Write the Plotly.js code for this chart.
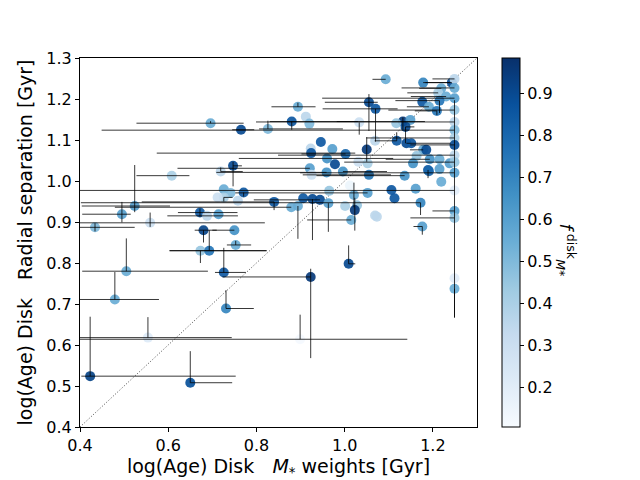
<!DOCTYPE html>
<html>
<head>
<meta charset="utf-8">
<script src="https://cdn.plot.ly/plotly-3.0.1.min.js"></script>
<style>body{margin:0;background:#fff}</style>
</head>
<body>
<div id="myDiv"></div>
<script>
// log(Age) disk, M* weighted (x) vs radial separation (y), colour = disk mass fraction
let ageMw = [0.423,0.650,0.554,0.899,0.923,1.009,0.479,0.505,0.731,0.726,
  0.673,0.693,0.753,0.434,0.559,0.495,0.524,0.672,0.680,0.688,
  0.714,0.750,0.608,0.719,0.747,0.696,0.765,0.826,0.726,0.741,
  0.726,0.712,0.758,0.771,0.840,0.894,0.912,0.920,0.880,1.093,
  1.055,1.070,1.033,1.132,1.149,1.117,1.138,1.118,1.140,1.151,
  1.069,1.050,1.178,1.243,1.219,1.212,1.230,1.215,1.176,1.191,
  1.209,1.178,1.185,1.163,1.193,1.215,1.155,1.189,1.215,1.238,
  1.136,1.191,1.219,1.161,1.106,1.113,1.172,1.176,1.069,0.946,
  0.923,0.924,0.972,1.002,0.960,0.978,0.921,0.925,0.959,0.996,
  1.031,1.052,1.055,1.012,0.965,0.879,0.894,0.906,0.927,0.944,
  0.963,1.001,1.021,1.028,1.023,1.015,1.052,1.073,1.249,1.249,
  1.249,1.249,1.249,1.249,1.249,1.249,1.249,1.249,1.249,1.249,
  1.249,1.249,1.249,1.249];
let radSep = [0.524,0.508,0.618,0.614,0.766,0.798,0.711,0.780,0.689,0.777,
  0.830,0.830,0.844,0.887,0.898,0.919,0.939,0.923,0.880,0.915,
  0.919,0.880,1.013,1.023,1.037,1.141,1.125,1.127,0.980,0.971,
  0.960,0.960,0.952,0.972,0.949,1.181,1.157,1.140,1.145,1.248,
  1.192,1.176,1.143,1.145,1.149,1.141,1.132,1.098,1.092,1.092,
  1.098,1.077,1.240,1.240,1.226,1.215,1.206,1.196,1.193,1.181,
  1.171,1.076,1.076,1.061,1.053,1.053,1.043,1.027,1.029,1.043,
  1.013,1.024,0.998,0.981,0.978,0.958,0.947,0.889,0.916,1.095,
  1.079,1.068,1.078,1.066,1.055,1.041,1.031,1.015,1.021,1.023,
  1.047,1.043,1.015,0.989,0.976,0.936,0.939,0.958,0.956,0.954,
  0.946,0.939,0.966,0.941,0.929,0.905,0.971,0.913,1.249,1.227,
  1.202,1.173,1.144,1.124,1.105,1.088,1.063,1.046,1.020,0.977,
  0.927,0.910,0.763,0.737];
let fDisk = [0.92,0.88,0.22,0.12,0.95,0.90,0.55,0.55,0.70,0.85,
  0.45,0.75,0.55,0.50,0.30,0.60,0.60,0.85,0.92,0.35,
  0.60,0.65,0.40,0.35,0.90,0.55,0.90,0.50,0.55,0.50,
  0.40,0.30,0.35,0.85,0.85,0.55,0.35,0.50,0.85,0.55,
  0.90,0.85,0.30,0.95,0.60,0.45,0.90,0.85,0.90,0.85,
  0.35,0.95,0.70,0.90,0.55,0.40,0.55,0.75,0.85,0.55,
  0.75,0.55,0.90,0.45,0.65,0.55,0.65,0.85,0.60,0.60,
  0.65,0.80,0.55,0.60,0.85,0.85,0.70,0.60,0.35,0.85,
  0.35,0.85,0.60,0.80,0.65,0.90,0.60,0.30,0.65,0.65,
  0.30,0.40,0.75,0.15,0.45,0.55,0.55,0.85,0.90,0.90,
  0.60,0.40,0.55,0.45,0.95,0.55,0.60,0.35,0.35,0.55,
  0.60,0.45,0.35,0.50,0.40,0.90,0.35,0.45,0.60,0.20,
  0.60,0.45,0.20,0.55];
let ageErrLo = [0.02,0.00,0.16,0.50,0.20,0.00,0.08,0.10,0.00,0.02,
  0.07,0.09,0.02,0.04,0.16,0.09,0.12,0.05,0.02,0.09,
  0.00,0.05,0.08,0.00,0.00,0.168,0.02,0.02,0.00,0.00,
  0.00,0.00,0.00,0.00,0.30,0.06,0.00,0.00,0.05,0.03,
  0.10,0.12,0.00,0.15,0.00,0.00,0.00,0.05,0.00,0.00,
  0.00,0.00,0.00,0.06,0.05,0.07,0.08,0.10,0.00,0.05,
  0.05,0.03,0.00,0.00,0.10,0.00,0.00,0.00,0.00,0.00,
  0.20,0.00,0.00,0.00,0.00,0.00,0.77,0.02,0.00,0.00,
  0.00,0.35,0.00,0.10,0.20,0.00,0.30,0.00,0.25,0.00,
  0.00,0.00,0.15,0.00,0.00,0.40,0.00,0.00,0.00,0.15,
  0.00,0.00,0.00,0.00,0.00,0.10,0.30,0.00,0.05,0.12,
  0.30,0.15,0.45,0.80,0.20,0.10,0.40,0.25,0.35,0.85,
  0.05,0.10,0.00,0.00];
let ageErrHi = [0.33,0.095,0.19,0.243,0.00,0.015,0.10,0.185,0.063,0.05,
  0.15,0.13,0.035,0.09,0.26,0.02,0.08,0.085,0.03,0.07,
  0.00,0.00,0.04,0.05,0.02,0.075,0.03,0.17,0.00,0.00,
  0.02,0.00,0.00,0.00,0.00,0.04,0.00,0.00,0.15,0.00,
  0.02,0.05,0.00,0.05,0.00,0.00,0.02,0.00,0.10,0.00,
  0.00,0.00,0.06,0.00,0.00,0.00,0.00,0.00,0.00,0.00,
  0.00,0.00,0.00,0.00,0.00,0.00,0.00,0.00,0.00,0.00,
  0.00,0.00,0.00,0.00,0.00,0.00,0.00,0.00,0.00,0.00,
  0.00,0.10,0.00,0.00,0.15,0.00,0.00,0.00,0.00,0.10,
  0.00,0.00,0.05,0.00,0.00,0.00,0.00,0.00,0.00,0.00,
  0.00,0.00,0.00,0.00,0.00,0.00,0.00,0.00,0.00,0.00,
  0.00,0.00,0.00,0.00,0.00,0.00,0.00,0.00,0.00,0.00,
  0.00,0.00,0.00,0.00];
let sepErrLo = [0.00,0.00,0.00,0.00,0.198,0.00,0.00,0.00,0.00,0.00,
  0.03,0.00,0.00,0.01,0.01,0.02,0.015,0.01,0.03,0.00,
  0.00,0.00,0.00,0.00,0.05,0.00,0.00,0.00,0.00,0.00,
  0.01,0.00,0.00,0.01,0.02,0.00,0.00,0.00,0.02,0.00,
  0.07,0.08,0.03,0.02,0.00,0.00,0.04,0.00,0.00,0.00,
  0.00,0.03,0.00,0.00,0.00,0.00,0.00,0.03,0.00,0.00,
  0.01,0.00,0.00,0.00,0.00,0.00,0.00,0.02,0.00,0.00,
  0.00,0.00,0.00,0.00,0.00,0.00,0.03,0.02,0.00,0.00,
  0.00,0.00,0.00,0.00,0.00,0.00,0.00,0.00,0.00,0.00,
  0.00,0.00,0.00,0.00,0.00,0.00,0.08,0.00,0.10,0.00,
  0.07,0.00,0.03,0.00,0.05,0.00,0.00,0.00,0.00,0.00,
  0.00,0.00,0.00,0.00,0.00,0.00,0.00,0.00,0.00,0.00,
  0.26,0.00,0.00,0.07];
let sepErrHi = [0.145,0.077,0.05,0.06,0.02,0.045,0.067,0.08,0.045,0.06,
  0.00,0.05,0.01,0.01,0.025,0.03,0.10,0.01,0.00,0.00,
  0.00,0.00,0.00,0.01,0.01,0.005,0.00,0.02,0.00,0.00,
  0.00,0.00,0.00,0.00,0.00,0.01,0.00,0.00,0.00,0.00,
  0.02,0.00,0.00,0.01,0.00,0.00,0.00,0.02,0.00,0.00,
  0.00,0.03,0.00,0.00,0.00,0.00,0.00,0.00,0.00,0.00,
  0.00,0.00,0.00,0.00,0.00,0.00,0.00,0.00,0.00,0.00,
  0.00,0.00,0.00,0.00,0.00,0.00,0.00,0.00,0.00,0.00,
  0.00,0.00,0.00,0.00,0.00,0.00,0.00,0.00,0.00,0.00,
  0.00,0.00,0.00,0.00,0.00,0.00,0.00,0.00,0.00,0.00,
  0.00,0.00,0.03,0.00,0.03,0.00,0.00,0.00,0.00,0.00,
  0.00,0.00,0.00,0.00,0.00,0.00,0.00,0.00,0.00,0.00,
  0.27,0.00,0.00,0.00];

let axisRange = [0.4, 1.3];
let xTicks = [0.4, 0.6, 0.8, 1.0, 1.2];
let yTicks = [0.4, 0.5, 0.6, 0.7, 0.8, 0.9, 1.0, 1.1, 1.2, 1.3];
let cbTicks = [0.2, 0.3, 0.4, 0.5, 0.6, 0.7, 0.8, 0.9];
let fRange = [0.106, 0.985];

// matplotlib "Blues"
let blues = [
  [0, '#f7fbff'], [0.125, '#deebf7'], [0.25, '#c6dbef'], [0.375, '#9ecae1'],
  [0.5, '#6baed6'], [0.625, '#4292c6'], [0.75, '#2171b5'], [0.875, '#08519c'], [1, '#08306b']
];

let font = 'DejaVu Sans, sans-serif';

// one-to-one line
let trace1 = {
  x: axisRange, y: axisRange,
  mode: 'lines', type: 'scatter',
  line: {color: 'rgba(0,0,0,0.8)', width: 0.9, dash: '1px,2px'},
  hoverinfo: 'skip', showlegend: false
};

// coloured points
let trace2 = {
  x: ageMw, y: radSep,
  mode: 'markers', type: 'scatter',
  marker: {
    size: 10,
    color: fDisk,
    colorscale: blues,
    cmin: fRange[0], cmax: fRange[1],
    opacity: 0.92,
    line: {width: 0},
    colorbar: {
      x: 1.063, xanchor: 'left', xpad: 0, ypad: 0,
      y: 0.5, len: 1, thickness: 18,
      outlinewidth: 1, outlinecolor: '#000',
      tickvals: cbTicks, ticktext: cbTicks.map(v => v.toFixed(1)),
      ticks: 'outside', ticklen: 4, tickcolor: '#000',
      tickfont: {family: font, size: 16, color: '#000'}
    }
  },
  showlegend: false
};

// error bars drawn above the points
let trace3 = {
  x: ageMw, y: radSep,
  mode: 'markers', type: 'scatter',
  marker: {size: 1, opacity: 0},
  error_x: {type: 'data', symmetric: false, array: ageErrHi, arrayminus: ageErrLo,
    color: 'rgba(0,0,0,0.78)', thickness: 1, width: 0},
  error_y: {type: 'data', symmetric: false, array: sepErrHi, arrayminus: sepErrLo,
    color: 'rgba(0,0,0,0.78)', thickness: 1, width: 0},
  hoverinfo: 'skip', showlegend: false
};

let axisStyle = {
  range: axisRange,
  showgrid: false, zeroline: false,
  showline: true, mirror: true, linecolor: '#000', linewidth: 1,
  ticks: 'outside', ticklen: 4, tickcolor: '#000',
  tickfont: {family: font, size: 16, color: '#000'}
};

let layout = {
  width: 640, height: 480,
  margin: {l: 80, r: 163, t: 58, b: 53},
  paper_bgcolor: '#fff', plot_bgcolor: '#fff',
  font: {family: font, color: '#000'},
  xaxis: Object.assign({}, axisStyle, {
    tickvals: xTicks, ticktext: xTicks.map(v => v.toFixed(1)),
    title: {text: 'log(Age) Disk   <i>M</i><sub>*</sub> weights [Gyr]', font: {family: font, size: 19}, standoff: 8}
  }),
  yaxis: Object.assign({}, axisStyle, {
    tickvals: yTicks, ticktext: yTicks.map(v => v.toFixed(1)),
    title: {text: 'log(Age) Disk   Radial separation [Gyr]', font: {family: font, size: 19}, standoff: 8}
  }),
  annotations: [{
    xref: 'paper', yref: 'paper', x: 1.263, y: 0.48,
    text: '<i>f</i><sup> disk</sup><sub><i>M</i>*</sub>',
    textangle: 90, showarrow: false,
    font: {family: font, size: 18, color: '#000'}
  }]
};

Plotly.newPlot('myDiv', [trace1, trace2, trace3], layout, {staticPlot: true});
</script>
</body>
</html>
